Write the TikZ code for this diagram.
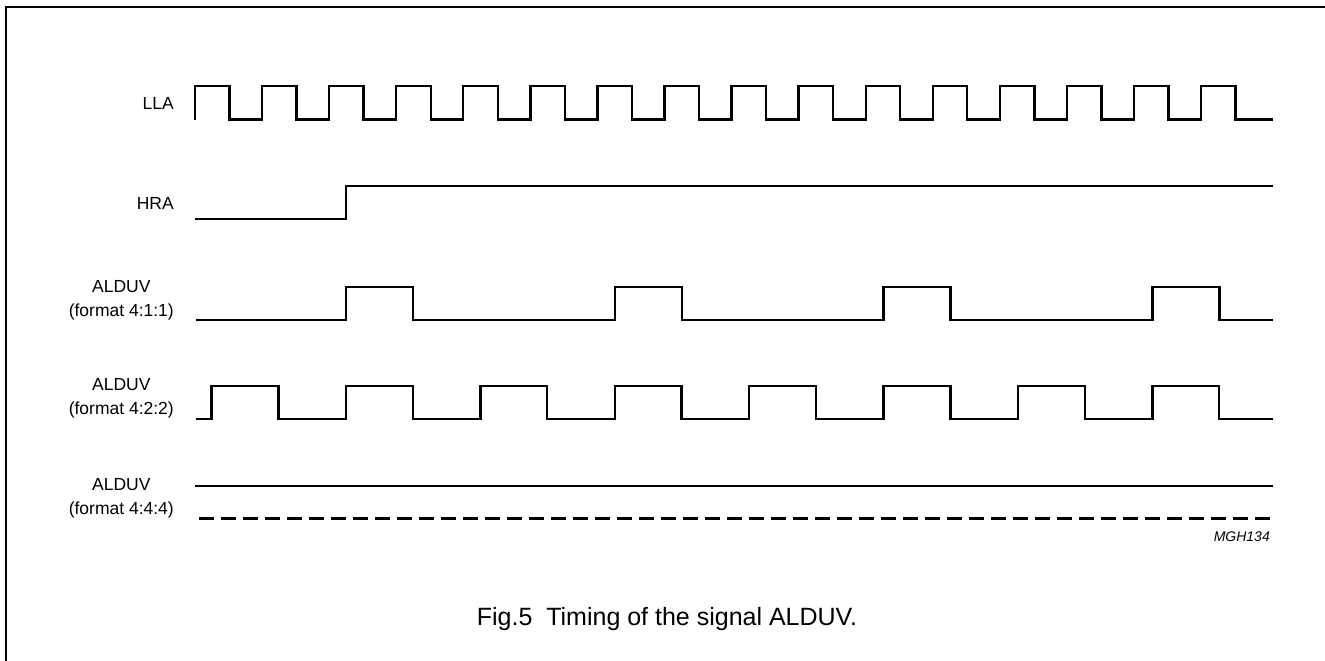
\documentclass[tikz,border=0pt]{standalone}
\usepackage{fontspec}
\setmainfont{Liberation Sans}
\begin{document}
\begin{tikzpicture}[x=1pt,y=-1pt,
  sig/.style={line width=2.4pt, line join=miter},
  frameline/.style={line width=2pt},
  lbl/.style={anchor=east, inner sep=0pt, font=\fontsize{17.5}{24}\selectfont, align=center},
  captiontext/.style={inner sep=0pt, font=\fontsize{25}{28}\selectfont},
  refcode/.style={anchor=east, inner sep=0pt, font=\fontsize{14}{16}\selectfont\itshape}]
\useasboundingbox (0,0) rectangle (1325,661);
% frame
\draw[frameline] (5.5,662) -- (5.5,7.5) -- (1327,7.5);
% labels
\node[lbl] (lla) at (174,103) {LLA};
\node[lbl] (hra) at (174,203) {HRA};
\node[lbl] (a411) at (174,300) {ALDUV\\(format 4:1:1)};
\node[lbl] (a422) at (174,398) {ALDUV\\(format 4:2:2)};
\node[lbl] (a444) at (174,498) {ALDUV\\(format 4:4:4)};
% LLA
\draw[sig] (195,119.5)
  \foreach \k in {0,...,15} {
    -- (195+\k*67.07,119.5) -- (195+\k*67.07,86) -- (229.5+\k*67.07,86) -- (229.5+\k*67.07,119.5)
  } -- (1273,119.5);
% HRA
\draw[sig] (195,219) -- (346,219) -- (346,186) -- (1273,186);
% ALDUV 4:1:1
\draw[sig] (196,320)
  \foreach \k in {0,...,3} {
    -- (346+\k*268.8,320) -- (346+\k*268.8,287) -- (413+\k*268.8,287) -- (413+\k*268.8,320)
  } -- (1273,320);
% ALDUV 4:2:2
\draw[sig] (196,419)
  \foreach \k in {0,...,7} {
    -- (211.6+\k*134.4,419) -- (211.6+\k*134.4,386) -- (278.4+\k*134.4,386) -- (278.4+\k*134.4,419)
  } -- (1273,419);
% ALDUV 4:4:4
\draw[sig] (195,485.7) -- (1273,485.7);
\draw[sig, dash pattern=on 14.5pt off 7.5pt] (199,518.3) -- (1273,518.3);
% reference code
\node[refcode] (mgh) at (1270,537) {MGH134};
% caption
\node[captiontext] (caption) at (667,619) {Fig.5\ \ Timing of the signal ALDUV.};
\end{tikzpicture}
\end{document}
